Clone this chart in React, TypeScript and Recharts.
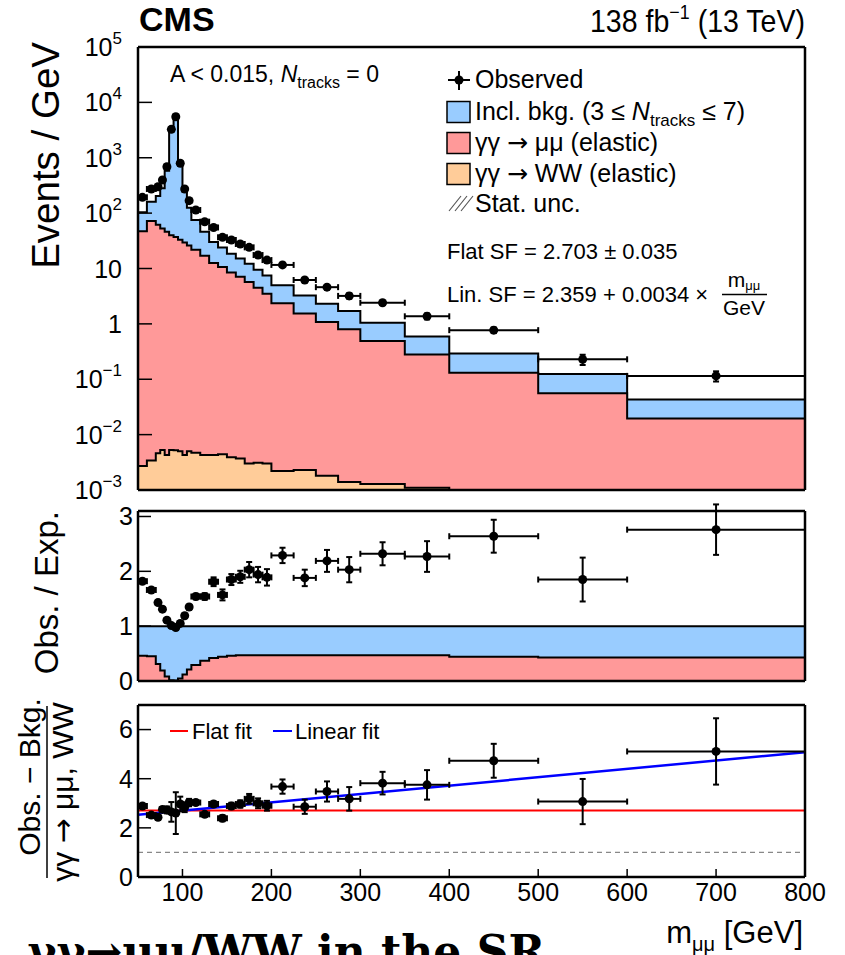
import React from 'react';
import { ComposedChart, Area, Scatter, Line, XAxis, YAxis, ErrorBar, ReferenceLine } from 'recharts';

const SANS = '"Liberation Sans", Arial, Helvetica, sans-serif';
const ARROW_FONT = '"DejaVu Sans", sans-serif';

const BLUE = '#99ccff';
const RED = '#ff9999';
const ORANGE = '#ffcc99';

// m_mumu bin edges [GeV]
const binEdges = [50, 60, 70, 75, 80, 85, 90, 95, 100, 105, 110, 120, 130, 140, 150, 160, 170, 180, 190, 200, 225, 250, 275, 300, 350, 400, 500, 600, 800];

// upper panel, events / GeV
const observed = [193, 273, 300, 396, 689, 3260, 5510, 794, 273, 168, 114, 70, 55, 36.6, 32.7, 27.7, 24.1, 17.5, 14.2, 11.6, 6.2, 4.6, 3.2, 2.41, 1.37, 0.77, 0.229, 0.115];
const observedErr = [4.4, 5.2, 7.7, 8.9, 11.7, 25.5, 33, 12.6, 7.4, 5.8, 3.4, 2.6, 2.3, 1.9, 1.8, 1.7, 1.55, 1.32, 1.19, 0.68, 0.5, 0.43, 0.36, 0.22, 0.166, 0.088, 0.048, 0.024];
const inclBkg = [57, 88, 143, 227, 534, 3060, 5260, 697, 216, 99, 53, 29, 17.4, 13.4, 10, 8.1, 6.5, 5.0, 4.0, 2.65, 1.72, 1.22, 0.9, 0.56, 0.31, 0.16, 0.069, 0.0235];
const mumuElastic = [47, 72, 61.5, 53, 46, 40, 37, 33, 29.4, 26, 21.8, 17, 12.6, 10.6, 8.5, 7.1, 5.7, 4.5, 3.5, 2.35, 1.53, 1.08, 0.8, 0.49, 0.28, 0.13, 0.055, 0.0185];
const wwElastic = [0.0027, 0.0034, 0.0046, 0.0053, 0.0043, 0.0053, 0.0052, 0.005, 0.0043, 0.005, 0.0047, 0.0043, 0.0043, 0.0044, 0.0039, 0.0037, 0.003, 0.0031, 0.003, 0.0022, 0.0023, 0.0018, 0.0014, 0.00128, 0.0011, 0.001, 0.001, 0.001];

// middle panel, Obs. / Exp.
const ratioObs = [1.82, 1.66, 1.43, 1.31, 1.11, 1.01, 0.975, 1.05, 1.19, 1.35, 1.54, 1.54, 1.81, 1.57, 1.85, 1.9, 2.03, 1.94, 1.89, 2.29, 1.88, 2.19, 2.03, 2.32, 2.27, 2.64, 1.85, 2.76];
const ratioErr = [0.03, 0.03, 0.04, 0.03, 0.02, 0.01, 0.01, 0.02, 0.03, 0.04, 0.05, 0.06, 0.08, 0.1, 0.1, 0.11, 0.14, 0.14, 0.15, 0.14, 0.15, 0.2, 0.23, 0.21, 0.28, 0.3, 0.4, 0.46];
const mumuFrac = [0.46, 0.45, 0.31, 0.19, 0.08, 0.013, 0.007, 0.045, 0.12, 0.21, 0.29, 0.37, 0.42, 0.44, 0.46, 0.47, 0.47, 0.47, 0.47, 0.47, 0.47, 0.47, 0.47, 0.47, 0.47, 0.44, 0.43, 0.43];

// lower panel, (Obs. - Bkg.) / (gg -> mumu, WW)
const sfObs = [2.89, 2.52, 2.43, 2.75, 2.73, 2.65, 2.6, 2.97, 2.84, 3.03, 3.03, 2.55, 2.97, 2.39, 2.89, 2.97, 3.18, 3.0, 2.9, 3.68, 2.86, 3.48, 3.18, 3.82, 3.75, 4.73, 3.07, 5.11];
const sfErr = [0.06, 0.07, 0.08, 0.1, 0.14, 0.4, 0.85, 0.3, 0.2, 0.15, 0.1, 0.1, 0.1, 0.12, 0.13, 0.15, 0.2, 0.2, 0.2, 0.29, 0.29, 0.41, 0.48, 0.46, 0.6, 0.69, 0.92, 1.35];
const FLAT_SF = 2.703;
const linearFit = [{ m: 50, sf: 2.53 }, { m: 800, sf: 5.08 }];

// axis ticks
const xMajor = [100, 200, 300, 400, 500, 600, 700, 800];
const xMinor: number[] = [];
for (let v = 60; v < 800; v += 20) xMinor.push(v);
const logMajor = [1e-3, 1e-2, 1e-1, 1, 10, 100, 1e3, 1e4, 1e5];
const logMinor: number[] = [];
logMajor.slice(0, -1).forEach((d) => {
  for (let k = 2; k <= 9; k++) logMinor.push(d * k);
});
const ratioMajor = [0, 1, 2, 3];
const ratioMinor = [0.2, 0.4, 0.6, 0.8, 1.2, 1.4, 1.6, 1.8, 2.2, 2.4, 2.6, 2.8, 3.0];
const sfMajor = [0, 2, 4, 6];
const sfMinor = [0.5, 1, 1.5, 2.5, 3, 3.5, 4.5, 5, 5.5, 6.5];

// step histogram table: one row per bin edge, last edge repeats last bin
const histData = binEdges.map((edge, i) => {
  const j = Math.min(i, binEdges.length - 2);
  const ww = wwElastic[j];
  const mm = ww + mumuElastic[j];
  return { m: edge, ww, mumu: mm, total: mm + inclBkg[j], frac: mumuFrac[j], one: 1 };
});

const points = observed.map((v, i) => ({
  m: (binEdges[i] + binEdges[i + 1]) / 2,
  xe: (binEdges[i + 1] - binEdges[i]) / 2,
  obs: v,
  obsErr: observedErr[i],
  ratio: ratioObs[i],
  ratioErr: ratioErr[i],
  sf: sfObs[i],
  sfErr: sfErr[i],
}));

const W = 845;
const TL = { stroke: '#000', strokeWidth: 1.5 };
const AL = { stroke: '#000', strokeWidth: 2.5 };
const TICK_FONT = { fontSize: 25, fill: '#000', fontFamily: SANS };

function LogTick(props: any) {
  const { x, y, payload } = props;
  const e = Math.round(Math.log10(payload.value));
  const common = { x, y, dy: 9, textAnchor: 'end' as const, fontFamily: SANS, fontSize: 25, fill: '#000' };
  if (e === 0) return <text {...common}>1</text>;
  if (e === 1) return <text {...common}>10</text>;
  return (
    <text {...common}>
      10<tspan dy={-12} fontSize={17}>{e < 0 ? `\u2212${-e}` : e}</tspan>
    </text>
  );
}

const Marker = (p: any) => <circle cx={p.cx} cy={p.cy} r={4.5} fill="#000" />;

// axes are 1px wide/high (0 hides them), margins below compensate
function xAxes(labels: boolean, majLen: number, minLen: number) {
  const base = { type: 'number' as const, domain: [50, 800], allowDataOverflow: true, interval: 0 as const, height: 1 };
  return [
    <XAxis key="x" xAxisId="x" dataKey="m" {...base} ticks={xMajor} tickSize={-majLen} tickMargin={majLen + 6}
      tickLine={TL} axisLine={AL} tick={labels ? TICK_FONT : false} />,
    <XAxis key="xm" xAxisId="xm" {...base} ticks={xMinor} tickSize={-minLen - 1} tickLine={TL} axisLine={false} tick={false} />,
    <XAxis key="xt" xAxisId="xt" orientation="top" {...base} ticks={xMajor} tickSize={-majLen} tickLine={TL} axisLine={AL} tick={false} />,
    <XAxis key="xtm" xAxisId="xtm" orientation="top" {...base} ticks={xMinor} tickSize={-minLen - 1} tickLine={TL} axisLine={false} tick={false} />,
  ];
}

function yAxes(opts: { domain: number[]; log?: boolean; major: number[]; minor: number[]; majLen: number; minLen: number; gap: number }) {
  const base: any = { type: 'number', domain: opts.domain, allowDataOverflow: true, interval: 0, width: 1 };
  if (opts.log) base.scale = 'log';
  const label = opts.log ? <LogTick /> : TICK_FONT;
  return [
    <YAxis key="y" yAxisId="y" {...base} ticks={opts.major} tickSize={-opts.majLen} tickMargin={opts.majLen + opts.gap}
      tickLine={TL} axisLine={AL} tick={label} />,
    <YAxis key="ym" yAxisId="ym" {...base} ticks={opts.minor} tickSize={-opts.minLen - 1} tickLine={TL} axisLine={false} tick={false} />,
    <YAxis key="yr" yAxisId="yr" orientation="right" {...base} ticks={opts.major} tickSize={-opts.majLen} tickLine={TL} axisLine={AL} tick={false} />,
    <YAxis key="yrm" yAxisId="yrm" orientation="right" {...base} ticks={opts.minor} tickSize={-opts.minLen - 1} tickLine={TL} axisLine={false} tick={false} />,
  ];
}

// plot area: x 138..805 in every panel
const mg = (top: number, bottom: number) => ({ top: top - 2, right: 38, bottom: bottom - 2, left: 136 });

function TopPanel() {
  return (
    <ComposedChart width={W} height={515} data={histData} margin={mg(47, 25)}>
      <Area xAxisId="x" yAxisId="y" type="stepAfter" dataKey="total" fill={BLUE} fillOpacity={1} stroke="#000" strokeWidth={2} isAnimationActive={false} />
      <Area xAxisId="x" yAxisId="y" type="stepAfter" dataKey="mumu" fill={RED} fillOpacity={1} stroke="#000" strokeWidth={2} isAnimationActive={false} />
      <Area xAxisId="x" yAxisId="y" type="stepAfter" dataKey="ww" fill={ORANGE} fillOpacity={1} stroke="#000" strokeWidth={2} isAnimationActive={false} />
      <Scatter xAxisId="x" yAxisId="y" data={points} dataKey="obs" shape={Marker} isAnimationActive={false}>
        <ErrorBar dataKey="obsErr" direction="y" width={3} stroke="#000" strokeWidth={2} />
        <ErrorBar dataKey="xe" direction="x" width={3} stroke="#000" strokeWidth={2} />
      </Scatter>
      {xAxes(false, 12, 6)}
      {yAxes({ domain: [1e-3, 1e5], log: true, major: logMajor, minor: logMinor, majLen: 14, minLen: 8, gap: 16 })}
    </ComposedChart>
  );
}

function MiddlePanel() {
  return (
    <ComposedChart width={W} height={200} data={histData} margin={mg(11, 19)}>
      <Area xAxisId="x" yAxisId="y" type="stepAfter" dataKey="one" fill={BLUE} fillOpacity={1} stroke="#000" strokeWidth={2} isAnimationActive={false} />
      <Area xAxisId="x" yAxisId="y" type="stepAfter" dataKey="frac" fill={RED} fillOpacity={1} stroke="#000" strokeWidth={2} isAnimationActive={false} />
      <Scatter xAxisId="x" yAxisId="y" data={points} dataKey="ratio" shape={Marker} isAnimationActive={false}>
        <ErrorBar dataKey="ratioErr" direction="y" width={3} stroke="#000" strokeWidth={2} />
        <ErrorBar dataKey="xe" direction="x" width={3} stroke="#000" strokeWidth={2} />
      </Scatter>
      {xAxes(false, 7, 4)}
      {yAxes({ domain: [0, 3.1], major: ratioMajor, minor: ratioMinor, majLen: 13, minLen: 5, gap: 5 })}
    </ComposedChart>
  );
}

function BottomPanel() {
  return (
    <ComposedChart width={W} height={255} data={histData} margin={mg(5, 78)}>
      <ReferenceLine xAxisId="x" yAxisId="y" y={1} stroke="#888" strokeWidth={1.2} strokeDasharray="5 4" />
      <ReferenceLine xAxisId="x" yAxisId="y" y={FLAT_SF} stroke="#ff0000" strokeWidth={2} />
      <Line xAxisId="x" yAxisId="y" data={linearFit} dataKey="sf" stroke="#0000ff" strokeWidth={2.5} dot={false} isAnimationActive={false} />
      <Scatter xAxisId="x" yAxisId="y" data={points} dataKey="sf" shape={Marker} isAnimationActive={false}>
        <ErrorBar dataKey="sfErr" direction="y" width={3} stroke="#000" strokeWidth={2} />
        <ErrorBar dataKey="xe" direction="x" width={3} stroke="#000" strokeWidth={2} />
      </Scatter>
      {xAxes(true, 8, 4)}
      {yAxes({ domain: [0, 7], major: sfMajor, minor: sfMinor, majLen: 13, minLen: 6, gap: 5 })}
    </ComposedChart>
  );
}

const Arrow = () => <tspan fontFamily={ARROW_FONT}>{'\u2192'}</tspan>;

function Overlay() {
  const leg = { fontFamily: SANS, fontSize: 25, fill: '#000' };
  const boxes = [
    { y: 101.5, fill: BLUE },
    { y: 132.5, fill: RED },
    { y: 163.5, fill: ORANGE },
  ];
  return (
    <svg width={W} height={955} style={{ position: 'absolute', left: 0, top: 0, pointerEvents: 'none' }}>
      <text x={139} y={31} fontFamily={SANS} fontWeight="bold" fontSize={34}>CMS</text>
      <text x={590} y={32} textLength={215} lengthAdjust="spacingAndGlyphs" fontFamily={SANS} fontSize={32}>
        138 fb<tspan dy={-13} fontSize={20}>{'\u22121'}</tspan><tspan dy={13}> (13 TeV)</tspan>
      </text>

      <text x={170} y={82} fontFamily={SANS} fontSize={23}>
        A &lt; 0.015, <tspan fontStyle="italic">N</tspan><tspan dy={6} fontSize={16}>tracks</tspan><tspan dy={-6}> = 0</tspan>
      </text>

      {/* legend */}
      <line x1={448} x2={470} y1={80} y2={80} stroke="#000" strokeWidth={2} />
      <line x1={459} x2={459} y1={71} y2={90} stroke="#000" strokeWidth={2} />
      <circle cx={459} cy={80} r={4.5} fill="#000" />
      <text x={475} y={88} {...leg}>Observed</text>
      {boxes.map((b, i) => (
        <rect key={i} x={447} y={b.y} width={23} height={21} fill={b.fill} stroke="#000" strokeWidth={1.5} />
      ))}
      <text x={475} y={120} {...leg}>
        Incl. bkg. (3 ≤ <tspan fontStyle="italic">N</tspan><tspan dy={6} fontSize={17}>tracks</tspan><tspan dy={-6}> ≤ 7)</tspan>
      </text>
      <text x={475} y={151} {...leg}>γγ <Arrow /> μμ (elastic)</text>
      <text x={475} y={182} {...leg}>γγ <Arrow /> WW (elastic)</text>
      {[0, 6, 12].map((d) => (
        <line key={d} x1={449 + d} y1={211} x2={461 + d} y2={196} stroke="#555" strokeWidth={1.2} />
      ))}
      <text x={475} y={212} {...leg}>Stat. unc.</text>

      <text x={447} y={259} fontFamily={SANS} fontSize={22}>Flat SF = 2.703 ± 0.035</text>
      <text x={447} y={302} fontFamily={SANS} fontSize={22}>Lin. SF = 2.359 + 0.0034 ×</text>
      <text x={744} y={287} textAnchor="middle" fontFamily={SANS} fontSize={21}>
        m<tspan dy={3} fontSize={13}>μμ</tspan>
      </text>
      <line x1={722} x2={767} y1={294.5} y2={294.5} stroke="#000" strokeWidth={1.3} />
      <text x={744} y={315} textAnchor="middle" fontFamily={SANS} fontSize={21}>GeV</text>

      {/* lower panel legend */}
      <line x1={170} x2={188} y1={731} y2={731} stroke="#ff0000" strokeWidth={2} />
      <text x={192} y={738.5} fontFamily={SANS} fontSize={22}>Flat fit</text>
      <line x1={273} x2={292} y1={731} y2={731} stroke="#0000ff" strokeWidth={2} />
      <text x={295} y={738.5} fontFamily={SANS} fontSize={22}>Linear fit</text>

      {/* axis titles */}
      <text x={803} y={943} textAnchor="end" fontFamily={SANS} fontSize={31}>
        m<tspan dy={8} fontSize={20}>μμ</tspan><tspan dy={-8}> [GeV]</tspan>
      </text>
      <text transform="translate(59,42) rotate(-90)" textAnchor="end" fontFamily={SANS} fontSize={38.5}>Events / GeV</text>
      <text transform="translate(58,511) rotate(-90)" textAnchor="end" fontFamily={SANS} fontSize={33}>Obs. / Exp.</text>
      <text transform="translate(40,777) rotate(-90)" textAnchor="middle" fontFamily={SANS} fontSize={30}>Obs. − Bkg.</text>
      <line x1={47} x2={47} y1={706} y2={878} stroke="#000" strokeWidth={1.5} />
      <text transform="translate(73,792) rotate(-90)" textAnchor="middle" fontFamily={SANS} fontSize={30}>γγ <Arrow /> μμ, WW</text>

      <text x={545} y={967} textAnchor="end" fontFamily='"DejaVu Serif", serif' fontWeight="bold" fontSize={44}>γγ→μμ/WW in the SR</text>
    </svg>
  );
}

export default function App() {
  return (
    <div style={{ position: 'absolute', left: 0, top: 0, width: W, height: 955, background: '#fff', overflow: 'hidden' }}>
      <div style={{ position: 'absolute', left: 0, top: 0 }}><TopPanel /></div>
      <div style={{ position: 'absolute', left: 0, top: 500 }}><MiddlePanel /></div>
      <div style={{ position: 'absolute', left: 0, top: 700 }}><BottomPanel /></div>
      <Overlay />
    </div>
  );
}
